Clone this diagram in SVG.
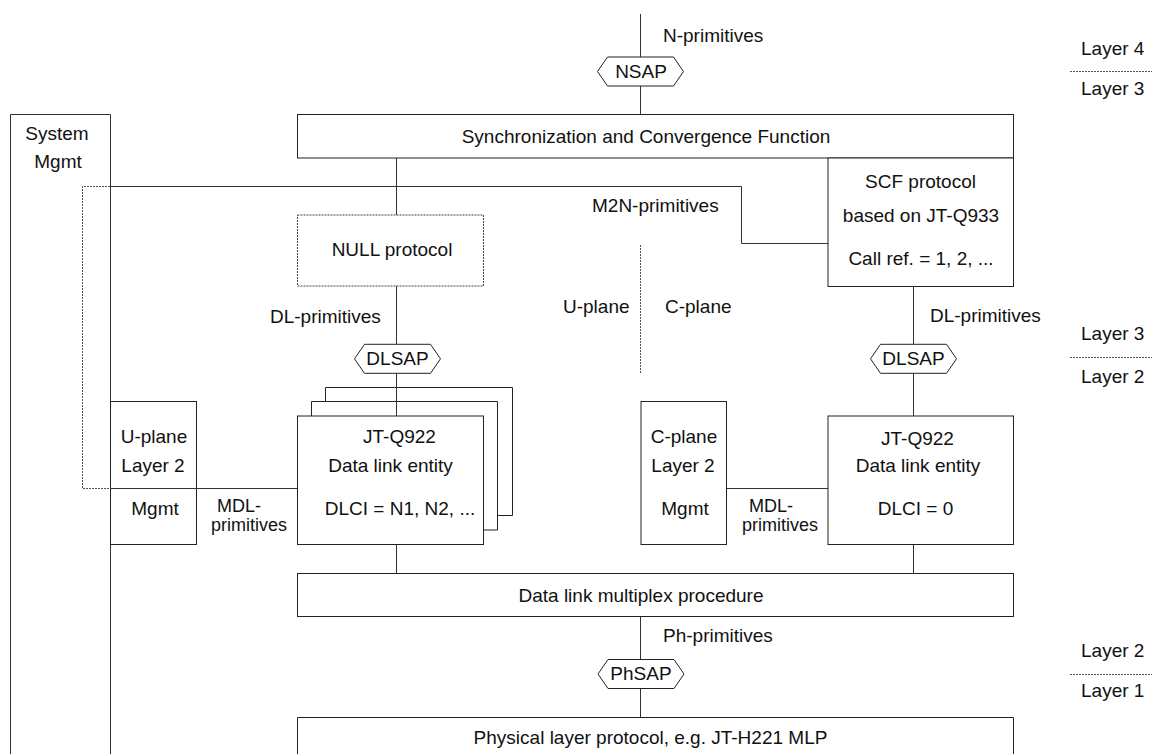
<svg xmlns="http://www.w3.org/2000/svg" width="1152" height="754" viewBox="0 0 1152 754">
  <style>
    text { font-family: "Liberation Sans", Arial, sans-serif; font-size: 19px; fill: #111; }
    .c { text-anchor: middle; }
    .tight { font-size: 18px; }
    .box { fill: #fff; stroke: #222; stroke-width: 1; }
    .dotbox { fill: #fff; stroke: #444; stroke-width: 1; stroke-dasharray: 2 1; }
    .ln { fill: none; stroke: #333; stroke-width: 1; }
    .dash { fill: none; stroke: #555; stroke-width: 1; stroke-dasharray: 2 1; }
    .sap { fill: #fff; stroke: #222; stroke-width: 1; }
  </style>
  <defs>
    <polygon id="hex" points="-43,0 -33,-14.5 33,-14.5 43,0 33,14.5 -33,14.5"/>
  </defs>
  <rect width="1152" height="754" fill="#fff"/>

  <!-- connectors -->
  <g id="connectors">
    <line class="ln" x1="640.5" y1="14" x2="640.5" y2="114.5"/>
    <line class="ln" x1="396.5" y1="158" x2="396.5" y2="215"/>
    <line class="ln" x1="396.5" y1="286" x2="396.5" y2="416"/>
    <line class="ln" x1="913.5" y1="286.5" x2="913.5" y2="416"/>
    <line class="ln" x1="396.5" y1="544.5" x2="396.5" y2="573.5"/>
    <line class="ln" x1="913.5" y1="544.5" x2="913.5" y2="573.5"/>
    <line class="ln" x1="640.5" y1="616.5" x2="640.5" y2="717.5"/>
    <!-- management paths -->
    <polyline class="ln" points="110,186.5 741.5,186.5 741.5,243.5 828,243.5"/>
    <polyline class="dash" points="110,186.5 82.5,186.5 82.5,488.5 110,488.5"/>
    <line class="ln" x1="110" y1="488.5" x2="297" y2="488.5"/>
    <line class="ln" x1="726.5" y1="488.5" x2="828" y2="488.5"/>
    <!-- plane divider -->
    <line class="dash" x1="640.5" y1="245" x2="640.5" y2="373"/>
  </g>

  <!-- layer boundaries -->
  <g id="layers">
    <text x="1081" y="55">Layer 4</text>
    <line class="dash" x1="1070" y1="71.5" x2="1152" y2="71.5"/>
    <text x="1081" y="95">Layer 3</text>
    <text x="1081" y="340">Layer 3</text>
    <line class="dash" x1="1070" y1="357.5" x2="1152" y2="357.5"/>
    <text x="1081" y="383">Layer 2</text>
    <text x="1081" y="657">Layer 2</text>
    <line class="dash" x1="1070" y1="674.5" x2="1152" y2="674.5"/>
    <text x="1081" y="697">Layer 1</text>
  </g>

  <!-- primitive labels -->
  <g id="labels">
    <text x="663" y="42">N-primitives</text>
    <text x="592" y="212">M2N-primitives</text>
    <text x="270" y="323">DL-primitives</text>
    <text x="930" y="322">DL-primitives</text>
    <text x="563" y="313">U-plane</text>
    <text x="665" y="313">C-plane</text>
    <text class="tight" x="217" y="512">MDL-</text>
    <text class="tight" x="211" y="531">primitives</text>
    <text class="tight" x="749" y="512">MDL-</text>
    <text class="tight" x="742" y="531">primitives</text>
    <text x="663" y="642">Ph-primitives</text>
  </g>

  <g id="system-mgmt">
    <polyline class="ln" points="10.5,754 10.5,114.5 110.5,114.5 110.5,754"/>
    <text class="c" x="57" y="140">System</text>
    <text class="c" x="58" y="168">Mgmt</text>
  </g>

  <g id="nsap">
    <use href="#hex" class="sap" x="640.5" y="71.5"/>
    <text class="c" x="641" y="78">NSAP</text>
  </g>

  <g id="scf">
    <rect class="box" x="297.5" y="114.5" width="716" height="43.5"/>
    <text class="c" x="646" y="143">Synchronization and Convergence Function</text>
  </g>

  <g id="scf-protocol">
    <rect class="box" x="828" y="158" width="185.5" height="128.5"/>
    <text class="c" x="920.5" y="188">SCF protocol</text>
    <text class="c" x="921" y="222">based on JT-Q933</text>
    <text class="c" x="921" y="265">Call ref. = 1, 2, ...</text>
  </g>

  <g id="null-protocol">
    <rect class="dotbox" x="297.5" y="215" width="186" height="71"/>
    <text class="c" x="392" y="256">NULL protocol</text>
  </g>

  <g id="dlsap-u">
    <use href="#hex" class="sap" x="397.5" y="358.8"/>
    <text class="c" x="397.5" y="365">DLSAP</text>
  </g>

  <g id="dlsap-c">
    <use href="#hex" class="sap" x="913.5" y="358.8"/>
    <text class="c" x="913.5" y="365">DLSAP</text>
  </g>

  <g id="dle-u">
    <path class="box" d="M325.5,401.5 V387.5 H512.5 V515.5 H497.5"/>
    <path class="box" d="M311.5,416 V401.5 H497.5 V530 H483.5"/>
    <line class="ln" x1="396.5" y1="373" x2="396.5" y2="416"/>
    <rect class="box" x="297.5" y="416" width="186" height="128.5"/>
    <text class="c" x="399.5" y="443">JT-Q922</text>
    <text class="c" x="390.5" y="472">Data link entity</text>
    <text class="c" x="400" y="515">DLCI = N1, N2, ...</text>
  </g>

  <g id="u-plane-mgmt">
    <rect class="box" x="110.5" y="401.5" width="86" height="143"/>
    <line class="ln" x1="110" y1="488.5" x2="196.5" y2="488.5"/>
    <text class="c" x="154" y="443">U-plane</text>
    <text class="c" x="153" y="472">Layer 2</text>
    <text class="c" x="155" y="515">Mgmt</text>
  </g>

  <g id="c-plane-mgmt">
    <rect class="box" x="641" y="401.5" width="85.5" height="143"/>
    <text class="c" x="684" y="443">C-plane</text>
    <text class="c" x="683" y="472">Layer 2</text>
    <text class="c" x="685" y="515">Mgmt</text>
  </g>

  <g id="dle-c">
    <rect class="box" x="828" y="416" width="185.5" height="128.5"/>
    <text class="c" x="917.5" y="445">JT-Q922</text>
    <text class="c" x="918" y="472">Data link entity</text>
    <text class="c" x="915.5" y="515">DLCI = 0</text>
  </g>

  <g id="mux">
    <rect class="box" x="297.5" y="573.5" width="716" height="43"/>
    <text class="c" x="641" y="602">Data link multiplex procedure</text>
  </g>

  <g id="phsap">
    <use href="#hex" class="sap" x="641" y="674"/>
    <text class="c" x="641" y="680">PhSAP</text>
  </g>

  <g id="physical">
    <polyline class="box" points="297.5,754 297.5,717.5 1013.5,717.5 1013.5,754"/>
    <text class="c" x="650.5" y="744">Physical layer protocol, e.g. JT-H221 MLP</text>
  </g>
</svg>
